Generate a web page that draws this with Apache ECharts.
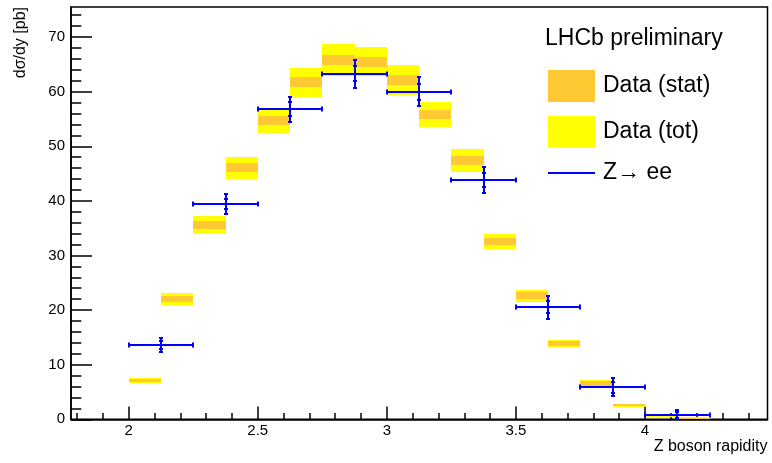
<!DOCTYPE html>
<html>
<head>
<meta charset="utf-8">
<title>Z boson rapidity</title>
<script src="https://cdn.jsdelivr.net/npm/echarts@6/dist/echarts.min.js"></script>
<style>
  html, body { margin: 0; padding: 0; background: #fff; }
  #chart { width: 772px; height: 463px; }
</style>
</head>
<body>
<div id="chart"></div>
<script>
// Measured dσ/dy in bins of 0.125 in rapidity: central value, stat and total uncertainty
const dataBinEdges = [2.0, 2.125, 2.25, 2.375, 2.5, 2.625, 2.75, 2.875, 3.0, 3.125,
                      3.25, 3.375, 3.5, 3.625, 3.75, 3.875, 4.0, 4.125, 4.25];
const dataValues = [7.11, 22.06, 35.63, 46.08, 54.69, 61.75, 65.88, 65.51, 62.21,
                    55.83, 47.40, 32.54, 22.61, 13.86, 6.56, 2.57, 0.70, 0.24];
const dataStat = [0.33, 0.60, 0.77, 0.83, 0.86, 0.88, 0.92, 0.92, 0.92,
                  0.83, 0.77, 0.70, 0.64, 0.50, 0.42, 0.15, 0.12, 0.08];
const dataTot = [0.43, 1.07, 1.62, 2.02, 2.33, 2.66, 2.93, 2.71, 2.75,
                 2.35, 2.11, 1.43, 1.07, 0.67, 0.59, 0.25, 0.20, 0.12];

// Z -> ee measurement in bins of 0.25
const zeeBinEdges = [2.0, 2.25, 2.5, 2.75, 3.0, 3.25, 3.5, 3.75, 4.0, 4.25];
const zeeValues = [13.62, 39.48, 56.77, 63.31, 59.96, 43.82, 20.54, 5.87, 0.73];
const zeeStat = [0.79, 0.92, 1.25, 1.32, 1.43, 1.32, 1.06, 1.05, 0.55];
const zeeTot = [1.28, 1.80, 2.33, 2.57, 2.66, 2.33, 2.11, 1.65, 0.97];

// Axis ticks and labels
const xMajorTicks = [2, 2.5, 3, 3.5, 4];
const xMinorTicks = [1.8, 1.9, 2.1, 2.2, 2.3, 2.4, 2.6, 2.7, 2.8, 2.9, 3.1, 3.2, 3.3, 3.4,
                     3.6, 3.7, 3.8, 3.9, 4.1, 4.2, 4.3, 4.4];
const yMajorTicks = [0, 10, 20, 30, 40, 50, 60, 70];
const yMinorTicks = [2, 4, 6, 8, 12, 14, 16, 18, 22, 24, 26, 28, 32, 34, 36, 38, 42, 44, 46, 48,
                     52, 54, 56, 58, 62, 64, 66, 68, 72, 74];

const X_MIN = 1.7765, X_MAX = 4.4745, Y_MIN = 0, Y_MAX = 75.5;
const FONT = "'Liberation Sans', Arial, Helvetica, sans-serif";
const ORANGE = '#ffc933', YELLOW = '#ffff00', BLUE = '#0000ff';

function boxData(err) {
  return dataValues.map((v, i) => [dataBinEdges[i], dataBinEdges[i + 1], v, err[i]]);
}

// Filled band from value-err to value+err across one bin, snapped to whole pixels
function renderBox(color) {
  return function (params, api) {
    const x0 = api.value(0), x1 = api.value(1), y = api.value(2), e = api.value(3);
    const p0 = api.coord([x0, y + e]);
    const p1 = api.coord([x1, Math.max(Y_MIN, y - e)]);
    const left = Math.round(p0[0]), right = Math.round(p1[0]);
    const top = Math.round(p0[1]);
    const bottom = Math.max(top + 1, Math.round(p1[1]));
    return {
      type: 'rect',
      shape: { x: left, y: top, width: right - left, height: bottom - top },
      style: { fill: color }
    };
  };
}

const zeeData = zeeValues.map((v, i) => [zeeBinEdges[i], zeeBinEdges[i + 1], v, zeeStat[i], zeeTot[i]]);

// Bin line with end markers, plus vertical error bar with marks at stat and total
function renderZee(params, api) {
  const x0 = api.value(0), x1 = api.value(1), y = api.value(2), s = api.value(3), t = api.value(4);
  const xc = (x0 + x1) / 2;
  const r = Math.round;
  const cx = r(api.coord([xc, y])[0]);
  const cy = r(api.coord([xc, y])[1]);
  const top = r(api.coord([xc, y + t])[1]);
  const bot = r(api.coord([xc, Math.max(Y_MIN, y - t)])[1]);
  const sTop = r(api.coord([xc, y + s])[1]);
  const sBot = r(api.coord([xc, Math.max(Y_MIN, y - s)])[1]);
  const left = r(api.coord([x0, y])[0]);
  const right = r(api.coord([x1, y])[0]);
  const st = { stroke: BLUE, lineWidth: 2 };
  const hw = 2;
  const seg = (a, b, c, d) => ({ type: 'line', shape: { x1: a, y1: b, x2: c, y2: d }, style: st });
  return {
    type: 'group',
    children: [
      seg(left, cy, right, cy),
      seg(left, cy - hw - 0.5, left, cy + hw + 0.5),
      seg(right, cy - hw - 0.5, right, cy + hw + 0.5),
      seg(cx, top, cx, bot),
      seg(cx - hw, top, cx + hw, top),
      seg(cx - hw, bot, cx + hw, bot),
      seg(cx - hw, sTop, cx + hw, sTop),
      seg(cx - hw, sBot, cx + hw, sBot)
    ]
  };
}

const axisText = { color: '#000', fontFamily: FONT, fontSize: 15 };
const black = { color: '#000', width: 1.5 };

const option = {
  animation: false,
  backgroundColor: '#fff',
  title: {
    text: 'LHCb preliminary',
    left: 545, top: 27.5, padding: 0,
    textStyle: { color: '#000', fontFamily: FONT, fontSize: 23, fontWeight: 'normal' }
  },
  legend: {
    orient: 'vertical',
    left: 548, top: 70, padding: 0,
    itemWidth: 47, itemHeight: 32, itemGap: 13.7,
    selectedMode: false,
    symbolKeepAspect: true,
    textStyle: { color: '#000', fontFamily: FONT, fontSize: 23, padding: [0, 0, 0, 3] },
    data: [
      { name: 'Data (stat)', icon: 'rect' },
      { name: 'Data (tot)', icon: 'rect' },
      { name: 'Z→ ee', icon: 'path://M0,0H47V2H0Z' }
    ]
  },
  grid: {
    left: 71, right: 4.5, top: 7, bottom: 43.7,
    show: true, borderColor: '#000', borderWidth: 1.5, backgroundColor: '#fff'
  },
  xAxis: [
    {
      type: 'value', min: X_MIN, max: X_MAX, position: 'bottom',
      axisLine: { show: true, onZero: false, lineStyle: black },
      axisTick: { show: true, inside: true, length: 12.7, customValues: xMajorTicks, lineStyle: black },
      axisLabel: { customValues: xMajorTicks, margin: 4, ...axisText },
      splitLine: { show: false },
      name: 'Z boson rapidity', nameLocation: 'end', nameGap: 0,
      nameTextStyle: { color: '#000', fontFamily: FONT, fontSize: 16, align: 'right',
                       verticalAlign: 'top', padding: [19, 0, 0, 0] }
    },
    {
      type: 'value', min: X_MIN, max: X_MAX, position: 'bottom',
      axisLine: { show: false, onZero: false },
      axisTick: { show: true, inside: true, length: 6.3, customValues: xMinorTicks, lineStyle: black },
      axisLabel: { show: false },
      splitLine: { show: false }
    }
  ],
  yAxis: [
    {
      type: 'value', min: Y_MIN, max: Y_MAX, position: 'left',
      axisLine: { show: true, onZero: false, lineStyle: black },
      axisTick: { show: true, inside: true, length: 21, customValues: yMajorTicks, lineStyle: black },
      axisLabel: { customValues: yMajorTicks, margin: 6, ...axisText },
      splitLine: { show: false },
      name: 'dσ/dy [pb]', nameLocation: 'end', nameGap: 0, nameRotate: 90,
      nameTextStyle: { color: '#000', fontFamily: FONT, fontSize: 16, align: 'right',
                       verticalAlign: 'bottom', padding: [0, 0, 42, 0] }
    },
    {
      type: 'value', min: Y_MIN, max: Y_MAX, position: 'left',
      axisLine: { show: false, onZero: false },
      axisTick: { show: true, inside: true, length: 10.3, customValues: yMinorTicks, lineStyle: black },
      axisLabel: { show: false },
      splitLine: { show: false }
    }
  ],
  series: [
    {
      name: 'Data (tot)', type: 'custom', z: 2,
      itemStyle: { color: YELLOW },
      data: boxData(dataTot),
      encode: { x: [0, 1], y: 2 },
      renderItem: renderBox(YELLOW)
    },
    {
      name: 'Data (stat)', type: 'custom', z: 3,
      itemStyle: { color: ORANGE },
      data: boxData(dataStat),
      encode: { x: [0, 1], y: 2 },
      renderItem: renderBox(ORANGE)
    },
    {
      name: 'Z→ ee', type: 'custom', z: 4,
      itemStyle: { color: BLUE },
      data: zeeData,
      encode: { x: [0, 1], y: 2 },
      renderItem: renderZee
    }
  ]
};

const chart = echarts.init(document.getElementById('chart'), null, { renderer: 'canvas' });
chart.setOption(option);
</script>
</body>
</html>
